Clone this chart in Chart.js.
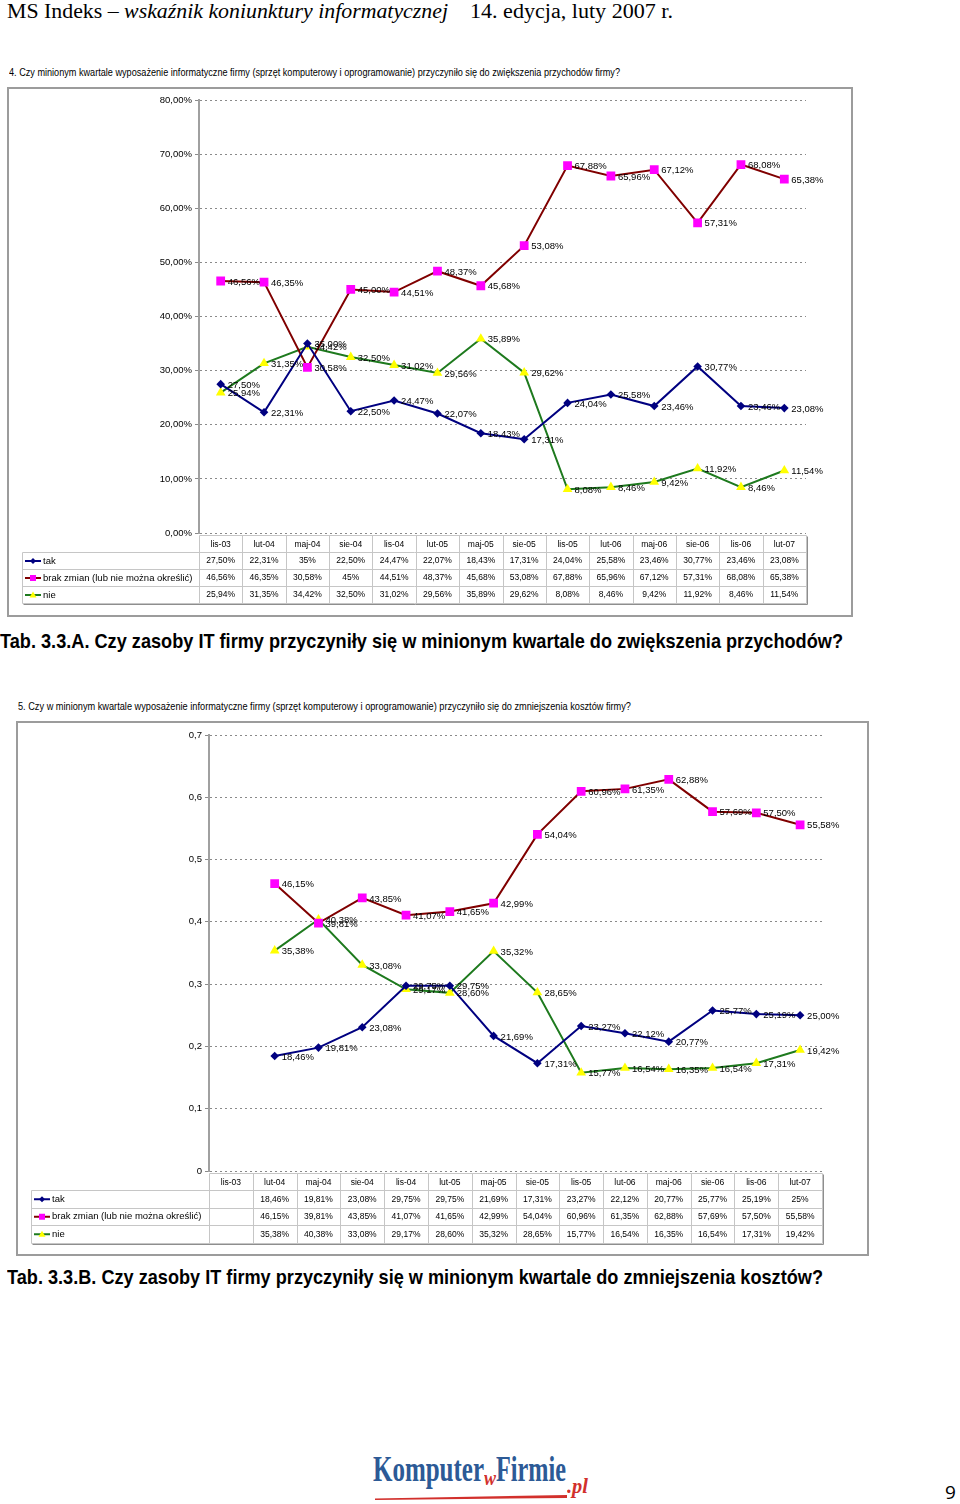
<!DOCTYPE html>
<html>
<head>
<meta charset="utf-8">
<script src="https://cdn.jsdelivr.net/npm/chart.js@4.4.0/dist/chart.umd.min.js"></script>
<style>
  body { margin: 0; background: #fff; width: 960px; height: 1504px; position: relative; overflow: hidden; }
  .t { position: absolute; white-space: nowrap; transform-origin: 0 0; line-height: 1; color: #000; }
  .box { position: absolute; box-sizing: border-box; border: 2px solid #9c9c9c; background: #fff; }
  .box canvas { display: block; }
  .cap { font-family: 'Liberation Sans Narrow', 'Liberation Sans', sans-serif; font-weight: bold; font-size: 21px; }
  .qt { font-family: 'Liberation Sans Narrow', 'Liberation Sans', sans-serif; font-size: 11px; }
  .logo { font-family: 'Liberation Serif', serif; font-weight: bold; color: #2c5a96; font-size: 35px; }
  .logo-r { font-family: 'Liberation Serif', serif; font-weight: bold; font-style: italic; color: #d2302c; font-size: 20px; }
</style>
</head>
<body>
<span class="t" id="h1" style="left:7px;top:0px;font:20px 'Liberation Serif'">MS Indeks – <i>wskaźnik koniunktury informatycznej</i></span>
<span class="t" id="h2" style="left:470px;top:0px;font:20px 'Liberation Serif'">14. edycja, luty 2007 r.</span>

<span class="t qt" id="q1" style="left:9px;top:67px">4. Czy minionym kwartale wyposażenie informatyczne firmy (sprzęt komputerowy i oprogramowanie) przyczyniło się do zwiększenia przychodów firmy?</span>
<div class="box" style="left:7px;top:87px;width:846px;height:530px"><canvas id="chart1" width="842" height="526"></canvas></div>
<span class="t cap" id="c1" style="left:0px;top:630px">Tab. 3.3.A. Czy zasoby IT firmy przyczyniły się w minionym kwartale do zwiększenia przychodów?</span>

<span class="t qt" id="q2" style="left:18px;top:701px">5. Czy w minionym kwartale wyposażenie informatyczne firmy (sprzęt komputerowy i oprogramowanie) przyczyniło się do zmniejszenia kosztów firmy?</span>
<div class="box" style="left:16px;top:721px;width:853px;height:535px"><canvas id="chart2" width="849" height="531"></canvas></div>
<span class="t cap" id="c2" style="left:7px;top:1266px">Tab. 3.3.B. Czy zasoby IT firmy przyczyniły się w minionym kwartale do zmniejszenia kosztów?</span>

<span class="t logo" id="l1" style="left:373px;top:1452px">Komputer</span>
<span class="t logo-r" id="l2" style="left:484px;top:1468px">w</span>
<span class="t logo" id="l3" style="left:496px;top:1452px">Firmie</span>
<span class="t logo-r" id="l4" style="left:567px;top:1476px">.pl</span>
<div style="position:absolute;left:375px;top:1495px;width:192px;height:5px;background:#d2302c;clip-path:polygon(0 70%,100% 0,100% 60%,0 100%)"></div>
<span class="t" style="left:945px;top:1479px;font:19px 'Open Sans'">9</span>

<script>
// categories (same for both charts)
const periods = ["lis-03", "lut-04", "maj-04", "sie-04", "lis-04", "lut-05", "maj-05",
  "sie-05", "lis-05", "lut-06", "maj-06", "sie-06", "lis-06", "lut-07"];
const seriesNames = ["tak", "brak zmian (lub nie można określić)", "nie"];

// chart 1 - percent values
const revTak = [27.50, 22.31, 35, 22.50, 24.47, 22.07, 18.43, 17.31, 24.04, 25.58, 23.46, 30.77, 23.46, 23.08];
const revBrak = [46.56, 46.35, 30.58, 45, 44.51, 48.37, 45.68, 53.08, 67.88, 65.96, 67.12, 57.31, 68.08, 65.38];
const revNie = [25.94, 31.35, 34.42, 32.50, 31.02, 29.56, 35.89, 29.62, 8.08, 8.46, 9.42, 11.92, 8.46, 11.54];

// chart 2 - fractions, no data for lis-03
const costTak = [null, 0.1846, 0.1981, 0.2308, 0.2975, 0.2975, 0.2169, 0.1731, 0.2327, 0.2212, 0.2077, 0.2577, 0.2519, 0.25];
const costBrak = [null, 0.4615, 0.3981, 0.4385, 0.4107, 0.4165, 0.4299, 0.5404, 0.6096, 0.6135, 0.6288, 0.5769, 0.5750, 0.5558];
const costNie = [null, 0.3538, 0.4038, 0.3308, 0.2917, 0.2860, 0.3532, 0.2865, 0.1577, 0.1654, 0.1635, 0.1654, 0.1731, 0.1942];

const lineColors = ["#000080", "#800000", "#1e7a1e"];
const markColors = ["#000080", "#ff00ff", "#ffff00"];
const markStyles = ["rectRot", "rect", "triangle"];
const markSizes = [4.3, 6.2, 5.6];
const FONT = "'Liberation Sans', Arial, sans-serif";

function pct(v) {
  return v.toFixed(2).replace(".", ",") + "%";
}
function cellPct(v) {
  let r = Math.round(v * 100) / 100;
  if (Number.isInteger(r)) return r + "%";
  return r.toFixed(2).replace(".", ",") + "%";
}

function makeDatasets(lists) {
  return lists.map(function (d, i) {
    return {
      label: seriesNames[i],
      data: d,
      borderColor: lineColors[i],
      borderWidth: 2,
      backgroundColor: markColors[i],
      pointBackgroundColor: markColors[i],
      pointBorderWidth: 0,
      pointStyle: markStyles[i],
      pointRadius: markSizes[i],
      tension: 0,
    };
  });
}

// value labels to the right of each point
const pointLabels = {
  id: "pointLabels",
  afterDatasetsDraw(chart, args, opts) {
    const ctx = chart.ctx;
    ctx.save();
    ctx.font = "9.5px " + FONT;
    ctx.fillStyle = "#000";
    ctx.textBaseline = "middle";
    ctx.textAlign = "left";
    chart.data.datasets.forEach(function (ds, i) {
      chart.getDatasetMeta(i).data.forEach(function (pt, j) {
        let v = ds.data[j];
        if (v === null) return;
        ctx.fillText(pct(v * opts.mult), pt.x + 7, pt.y + 1);
      });
    });
    ctx.restore();
  },
};

function drawMark(ctx, style, x, y, color) {
  ctx.fillStyle = color;
  ctx.beginPath();
  if (style === "rectRot") {
    ctx.moveTo(x, y - 3); ctx.lineTo(x + 3, y); ctx.lineTo(x, y + 3); ctx.lineTo(x - 3, y);
  } else if (style === "rect") {
    ctx.rect(x - 3, y - 3, 6, 6);
  } else {
    ctx.moveTo(x, y - 3.5); ctx.lineTo(x + 3.5, y + 2.5); ctx.lineTo(x - 3.5, y + 2.5);
  }
  ctx.closePath();
  ctx.fill();
}

// data table under the plot
const dataTable = {
  id: "dataTable",
  afterDraw(chart, args, o) {
    const ctx = chart.ctx;
    const area = chart.chartArea;
    const xs = chart.scales.x;
    const n = chart.data.labels.length;
    const sets = chart.data.datasets;
    const px = function (v) { return Math.round(v) + 0.5; };

    let edges = [area.left];
    for (let i = 0; i < n - 1; i++) {
      edges.push((xs.getPixelForValue(i) + xs.getPixelForValue(i + 1)) / 2);
    }
    edges.push(area.right);

    const top = area.bottom + 2;
    const bodyTop = top + o.headH;
    const bottom = bodyTop + o.rowH * sets.length;

    ctx.save();
    ctx.lineWidth = 1;
    ctx.strokeStyle = "#c6c6c6";
    ctx.beginPath();
    ctx.moveTo(px(area.left), px(top)); ctx.lineTo(px(area.right), px(top));
    for (let r = 0; r <= sets.length; r++) {
      let y = px(bodyTop + r * o.rowH);
      ctx.moveTo(px(o.left), y); ctx.lineTo(px(area.right), y);
    }
    ctx.moveTo(px(o.left), px(bodyTop)); ctx.lineTo(px(o.left), px(bottom));
    edges.forEach(function (e) {
      ctx.moveTo(px(e), px(top)); ctx.lineTo(px(e), px(bottom));
    });
    ctx.stroke();

    // shadow on right and bottom
    ctx.strokeStyle = "#8e8e8e";
    ctx.beginPath();
    ctx.moveTo(px(area.right) + 1, px(top) + 1); ctx.lineTo(px(area.right) + 1, px(bottom) + 1);
    ctx.moveTo(px(o.left) + 1, px(bottom) + 1); ctx.lineTo(px(area.right) + 1, px(bottom) + 1);
    ctx.stroke();

    ctx.fillStyle = "#000";
    ctx.textBaseline = "middle";
    ctx.textAlign = "center";
    ctx.font = "8.5px " + FONT;
    chart.data.labels.forEach(function (lab, i) {
      ctx.fillText(lab, xs.getPixelForValue(i), top + o.headH / 2 + 1);
    });

    sets.forEach(function (ds, r) {
      let cy = bodyTop + r * o.rowH + o.rowH / 2 + 0.5;
      ds.data.forEach(function (v, i) {
        if (v === null) return;
        ctx.fillStyle = "#000";
        ctx.fillText(cellPct(v * o.mult), xs.getPixelForValue(i), cy);
      });
      // legend key
      ctx.strokeStyle = lineColors[r];
      ctx.lineWidth = 2;
      ctx.beginPath();
      ctx.moveTo(o.left + 3, cy); ctx.lineTo(o.left + 19, cy);
      ctx.stroke();
      drawMark(ctx, markStyles[r], o.left + 11, cy, markColors[r]);
      ctx.fillStyle = "#000";
      ctx.textAlign = "left";
      ctx.font = "9.5px " + FONT;
      ctx.fillText(ds.label, o.left + 21, cy);
      ctx.textAlign = "center";
      ctx.font = "8.5px " + FONT;
    });
    ctx.restore();
  },
};

function makeChart(id, lists, cfg) {
  let ctx = document.getElementById(id).getContext("2d");
  return new Chart(ctx, {
    type: "line",
    data: { labels: periods, datasets: makeDatasets(lists) },
    plugins: [pointLabels, dataTable],
    options: {
      responsive: false,
      animation: false,
      devicePixelRatio: 1,
      layout: { padding: cfg.padding },
      plugins: {
        legend: { display: false },
        tooltip: { enabled: false },
        pointLabels: { mult: cfg.mult },
        dataTable: { left: cfg.tableLeft, headH: 17, rowH: cfg.rowH, mult: cfg.mult },
      },
      scales: {
        x: { type: "category", offset: true, display: false },
        y: {
          min: 0,
          max: cfg.max,
          afterFit: function (s) { s.width = cfg.axisW; },
          ticks: {
            stepSize: cfg.step,
            color: "#000",
            padding: 3,
            font: { family: FONT, size: 9.5 },
            callback: cfg.tick,
          },
          grid: { color: "#8a8a8a", lineWidth: 1, tickLength: 4, tickColor: "#8a8a8a" },
          border: { color: "#a0a0a0", width: 2, dash: [2, 3] },
        },
      },
    },
  });
}

try {
  makeChart("chart1", [revTak, revBrak, revNie], {
    padding: { top: 11, right: 45, bottom: 82, left: 0 },
    axisW: 190, max: 80, step: 10, mult: 1, tableLeft: 13, rowH: 17,
    tick: function (v) { return v.toFixed(2).replace(".", ",") + "%"; },
  });
} catch (error) {
  console.log("while creating chart 1:", error);
}

try {
  makeChart("chart2", [costTak, costBrak, costNie], {
    padding: { top: 12, right: 45, bottom: 83, left: 0 },
    axisW: 191, max: 0.7, step: 0.1, mult: 100, tableLeft: 13, rowH: 17.5,
    tick: function (v) { return v === 0 ? "0" : v.toFixed(1).replace(".", ","); },
  });
} catch (error) {
  console.log("while creating chart 2:", error);
}

// squeeze text blocks to the widths they have on the page
function fit(id, w) {
  let el = document.getElementById(id);
  let r = el.getBoundingClientRect().width;
  el.style.transform = "scaleX(" + (w / r) + ")";
}
fit("h1", 441);
fit("h2", 203);
fit("q1", 611);
fit("q2", 613);
fit("c1", 843);
fit("c2", 816);
fit("l1", 111);
fit("l2", 12);
fit("l3", 70);
fit("l4", 21);
</script>
</body>
</html>
